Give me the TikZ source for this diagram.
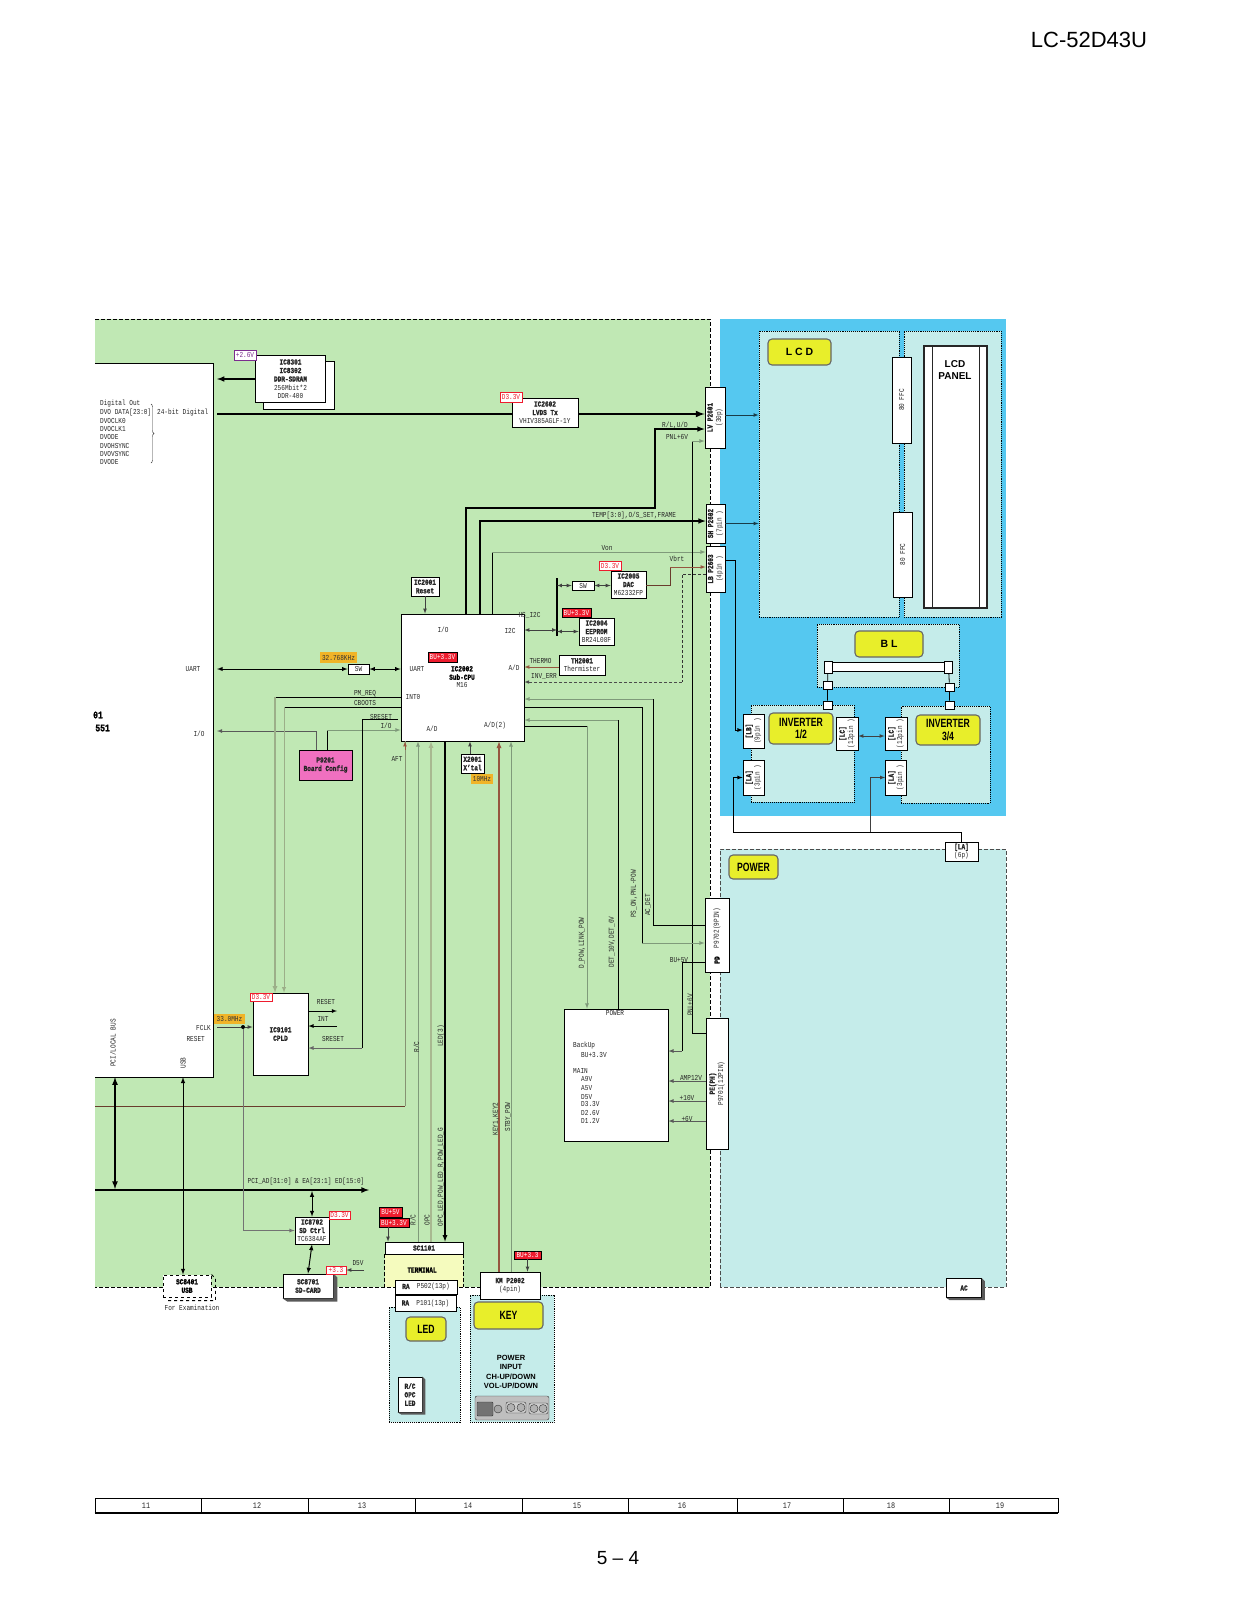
\documentclass[tikz,border=0pt]{standalone}
\usepackage{fontspec}
\setmainfont[FakeStretch=0.8,BoldFeatures={FakeBold=1.6}]{Liberation Mono}
\newfontfamily\headfont[FakeStretch=0.72]{Liberation Sans}
\newfontfamily\pagefont{Liberation Sans}
\usetikzlibrary{calc}
\usetikzlibrary{arrows}
\usetikzlibrary{decorations.pathreplacing}
\tikzset{>=latex}
\definecolor{boardgreen}{HTML}{C0E8B4}
\definecolor{skyblue}{HTML}{55C8F0}
\definecolor{paleteal}{HTML}{C5ECEA}
\definecolor{paleyellow}{HTML}{F5FBBE}
\definecolor{titleyellow}{HTML}{E8EE2A}
\definecolor{tagred}{HTML}{EE1C2E}
\definecolor{tagorange}{HTML}{F0B428}
\definecolor{tagpurple}{HTML}{7B2D8E}
\definecolor{cfgpink}{HTML}{F070C0}
\definecolor{sigbrown}{HTML}{96563F}
\definecolor{siggrey}{HTML}{7F9A7A}
\definecolor{sigtan}{HTML}{A8B890}
\tikzstyle{lbl} = [inner sep=0pt, text=black!85]
\tikzstyle{blbl} = [inner sep=0pt, text=black, font=\fontsize{7.6}{8.5}\selectfont\bfseries]
\tikzstyle{vlbl} = [lbl, rotate=90]
\tikzstyle{box} = [draw=black, fill=white, line width=0.8pt, inner sep=0pt, align=center, text=black!85]
\tikzstyle{vbox} = [box, rotate=90]
\tikzstyle{panel} = [draw=black, densely dotted, line width=0.9pt, fill=paleteal, inner sep=0pt]
\tikzstyle{title} = [draw=black!60, line width=1.1pt, fill=titleyellow, rounded corners=4pt, inner sep=0pt, align=center, font=\headfont\fontsize{12}{12.5}\selectfont\bfseries]
\tikzstyle{widetitle} = [title, font=\pagefont\fontsize{10.5}{11}\selectfont\bfseries]
\tikzstyle{redtag} = [draw=black, fill=tagred, text=white, inner sep=0pt, line width=0.5pt]
\tikzstyle{redline} = [draw=tagred, fill=white, text=tagred, inner sep=0pt, line width=0.7pt]
\tikzstyle{purpletag} = [draw=tagpurple, fill=white, text=tagpurple, inner sep=0pt, line width=0.7pt]
\tikzstyle{clocktag} = [fill=tagorange, text=black!80, inner sep=0pt]
\tikzstyle{fatline} = [line width=1.5pt, black]
\tikzstyle{midline} = [line width=0.8pt, black]
\tikzstyle{greyline} = [line width=0.8pt, siggrey]
\tikzstyle{arrow} = [line width=0.7pt, black!75]
\tikzstyle{boardedge} = [dash pattern=on 4pt off 2pt, line width=0.9pt]

\begin{document}
\begin{tikzpicture}[x=1pt,y=-1pt,font=\fontsize{7.6}{8.5}\selectfont]
    \useasboundingbox (0,0) rectangle (1237,1600);

    % page texts
    \node[inner sep=0pt, font=\pagefont\fontsize{22}{24}\selectfont] (model) at (1089,40) {LC-52D43U};
    \node[inner sep=0pt, font=\pagefont\fontsize{19}{22}\selectfont] (pageno) at (618,1558) {5 – 4};

    % board backgrounds
    \fill[boardgreen] (95,319) rectangle (710,1287);
    \draw[boardedge] (95,319) -- (710,319) -- (710,1287) -- (95,1287);
    \fill[skyblue] (720,319) rectangle (1006,816);
    \fill[paleteal] (720,849) rectangle (1006,1287);
    \draw[boardedge, draw=black!70] (720,1287) -- (720,849) -- (1006,849) -- (1006,1287) -- cycle;

    % lcd side panels
    \node[panel, minimum width=140pt, minimum height=286pt] (lcdunit) at (829,474) {};
    \node[panel, minimum width=97pt, minimum height=286pt] (panelunit) at (952.5,474) {};
    \node[panel, minimum width=142pt, minimum height=63pt] (blunit) at (888,655.5) {};
    \node[panel, minimum width=103pt, minimum height=97pt] (invone) at (802.5,753.5) {};
    \node[panel, minimum width=89pt, minimum height=97pt] (invtwo) at (945.5,754.5) {};
    \node[box, minimum width=19pt, minimum height=86pt] (ffcone) at (901.5,400) {};
    \node[box, minimum width=19pt, minimum height=85pt] (ffctwo) at (902.5,554.5) {};
    \node[vlbl] (ffconetxt) at (ffcone) {80 FFC};
    \node[vlbl] (ffctwotxt) at (ffctwo) {80 FFC};
    \node[box, draw=black!85, line width=1.2pt, minimum width=63pt, minimum height=262pt] (lcdglass) at (955.5,477) {};
    \draw[line width=1pt, black!85] (932,346) -- (932,608);
    \draw[line width=1pt, black!85] (979,346) -- (979,608);
    \node[inner sep=0pt, align=center, font=\pagefont\fontsize{10}{11.5}\selectfont\bfseries] (lcdglasstxt) at (955,370) {LCD\\PANEL};
    \node[widetitle, minimum width=63pt, minimum height=26pt] (lcdtitle) at (799.5,352) {L C D};
    \node[widetitle, minimum width=68pt, minimum height=26pt] (bltitle) at (889,644) {B L};
    \node[title, minimum width=64pt, minimum height=31pt] (invonetitle) at (801,728.5) {INVERTER\\1/2};
    \node[title, minimum width=64pt, minimum height=30pt] (invtwotitle) at (948,730) {INVERTER\\3/4};
    \node[title, minimum width=49pt, minimum height=24pt] (powertitle) at (753.5,867) {POWER};

    % backlight tube
    \node[box, minimum width=117pt, minimum height=9pt] (tube) at (888,667) {};
    \node[box, minimum width=8pt, minimum height=12pt] (tubeleft) at (828,667) {};
    \node[box, minimum width=8pt, minimum height=12pt] (tuberight) at (948.5,667) {};
    \node[box, minimum width=9pt, minimum height=8pt] (jackleft) at (827.5,685) {};
    \node[box, minimum width=9pt, minimum height=8pt] (plugleft) at (827.5,705) {};
    \node[box, minimum width=9pt, minimum height=8pt] (jackright) at (949.5,687) {};
    \node[box, minimum width=9pt, minimum height=8pt] (plugright) at (949.5,705) {};
    \draw[midline] (tubeleft) -- (jackleft) -- (plugleft);
    \draw[midline] (tuberight) -- (jackright) -- (plugright);

    % inverter connectors
    \node[vbox, minimum width=34pt, minimum height=21pt] (lbconn) at (753.5,731) {\textbf{[LB]}\\(9pin )};
    \node[vbox, minimum width=35pt, minimum height=21pt] (laone) at (753.5,777.5) {\textbf{[LA]}\\(3pin )};
    \node[vbox, minimum width=33pt, minimum height=22pt] (lcone) at (847,733.5) {\textbf{[LC]}\\(12pin )};
    \node[vbox, minimum width=33pt, minimum height=22pt] (lctwo) at (896,733.5) {\textbf{[LC]}\\(12pin )};
    \node[vbox, minimum width=35pt, minimum height=21pt] (latwo) at (896,777.5) {\textbf{[LA]}\\(3pin )};
    \node[box, minimum width=33pt, minimum height=19pt] (lasix) at (961.5,851.5) {\textbf{[LA]}\\(6p)};
    \draw[arrow, <->] (lcone.south |- 0,736) -- (lctwo.north |- 0,736);
    \draw[midline, ->] (lasix.north) |- (733,832) |- (laone.north);
    \draw[arrow, ->] (870,832) |- (latwo.north);

    % big block at the left
    \node[fill=white, minimum width=118pt, minimum height=713pt, inner sep=0pt] (soc) at (154,720.5) {};
    \draw[midline] (soc.north west) -- (soc.north east) -- (soc.south east) -- (soc.south west);
    \coordinate (socrail) at (217,720);
    \node[blbl, anchor=east, font=\fontsize{10}{11}\selectfont\bfseries] (socnumtop) at (103,715) {01};
    \node[blbl, anchor=east, font=\fontsize{10}{11}\selectfont\bfseries] (socnumbot) at (110,728) {551};
    \node[lbl, anchor=west] (dvoa) at (100,404) {Digital Out};
    \node[lbl, anchor=west] (dvob) at (100,413) {DVO DATA[23:0]};
    \node[lbl, anchor=west] (dvoc) at (100,421) {DVOCLK0};
    \node[lbl, anchor=west] (dvod) at (100,429) {DVOCLK1};
    \node[lbl, anchor=west] (dvoe) at (100,437) {DVODE};
    \node[lbl, anchor=west] (dvof) at (100,446) {DVOHSYNC};
    \node[lbl, anchor=west] (dvog) at (100,454) {DVOVSYNC};
    \node[lbl, anchor=west] (dvoh) at (100,462) {DVODE};
    \draw[decorate, decoration={brace, amplitude=3pt}, black!80] (151,404) -- (151,463);
    \node[lbl, anchor=west] (dvobits) at (157,413) {24-bit Digital};
    \node[lbl] (socuart) at (193,669) {UART};
    \node[lbl] (socio) at (199,734) {I/O};
    \node[lbl, anchor=east] (socfclk) at (211,1028) {FCLK};
    \node[lbl, anchor=east] (socreset) at (205,1039) {RESET};
    \node[vlbl] (socpci) at (113,1043) {PCI/LOCAL BUS};
    \node[vlbl] (socusb) at (183,1063) {USB};

    % ddr and lvds
    \node[box, minimum width=71pt, minimum height=48pt] (ddrback) at (298.5,385) {};
    \node[box, minimum width=70pt, minimum height=47pt] (ddr) at (290.5,379) {\textbf{IC8301}\\\textbf{IC8302}\\\textbf{DDR-SDRAM}\\256Mbit*2\\DDR-400};
    \node[purpletag, minimum width=22pt, minimum height=10pt] (ddrtag) at (245,355) {+2.6V};
    \draw[fatline, ->] (ddr.west) -- (socrail |- ddr.west);
    \node[box, minimum width=66pt, minimum height=29pt] (lvds) at (545,412.5) {\textbf{IC2602}\\\textbf{LVDS Tx}\\VHIV385AGLF-1Y};
    \node[redline, minimum width=22pt, minimum height=10pt] (lvdstag) at (511,397) {D3.3V};
    \node[vbox, minimum width=61pt, minimum height=20pt] (lvconn) at (715,417.5) {\textbf{LV P2601}\\(30p)};
    \node[vbox, minimum width=39pt, minimum height=19pt] (shconn) at (715.5,523.5) {\textbf{SH P2602}\\(7pin )};
    \node[vbox, minimum width=46pt, minimum height=19pt] (lbpconn) at (715.5,569) {\textbf{LB P2603}\\(4pin )};
    \draw[fatline, line width=2pt] (socrail |- 0,414) -- (lvds.west |- 0,414);
    \draw[fatline, line width=2pt, ->] (lvds.east |- 0,414) -- (lvconn.north |- 0,414);
    \draw[line width=0.7pt, black!70!skyblue, ->] (lvconn.south |- 0,415) -- (lcdunit.west |- 0,415);
    \draw[line width=0.7pt, black!70!skyblue, ->] (shconn.south) -- (lcdunit.west |- shconn.south);
    \draw[midline, ->] (lbpconn.south |- 0,560) -| (735,730) -- (lbconn.north |- 0,730);

    % sub cpu
    \node[box, minimum width=123pt, minimum height=127pt] (subcpu) at (462.5,677.5) {};
    \node[blbl, align=center] (subcputxt) at (462,673) {IC2002\\Sub-CPU};
    \node[lbl] (subcpum) at (462,685) {M16};
    \node[redtag, minimum width=29pt, minimum height=10pt] (subcputag) at (442.5,657) {BU+3.3V};
    \node[lbl] (cpuio) at (443,630) {I/O};
    \node[lbl] (cpui2c) at (510,631) {I2C};
    \node[lbl] (cpuuart) at (417,669) {UART};
    \node[lbl] (cpuad) at (514,668) {A/D};
    \node[lbl] (cpuint) at (413,697) {INT0};
    \node[lbl] (cpuadl) at (432,729) {A/D};
    \node[lbl] (cpuadr) at (495,726) {A/D(2)};
    \node[box, minimum width=28pt, minimum height=19pt] (reset) at (425,586.5) {\textbf{IC2001}\\\textbf{Reset}};
    \draw[arrow, ->] (reset) -- (subcpu.north -| reset);

    % lines from the top of the sub cpu
    \draw[fatline, ->] (subcpu.north -| 466,0) |- (655,508) |- (lvconn.north |- 0,429);
    \draw[fatline, ->] (subcpu.north -| 480,0) |- (shconn.north |- 0,521);
    \draw[midline] (subcpu.north -| 492,0) -- (492,552);
    \draw[greyline, ->] (492,552) -- (lbpconn.north |- 0,552);
    \draw[midline] (692,441) -- (692,1033);
    \draw[midline] (692,1033) -- (706,1033);
    \draw[greyline, ->] (692,441) -- (lvconn.north |- 0,441);
    \node[lbl] (rltxt) at (675,425) {R/L,U/D};
    \node[lbl] (pnltxt) at (677,437) {PNL+6V};
    \node[lbl] (temptxt) at (634,516) {TEMP[3:0],O/S\_SET,FRAME};
    \node[lbl] (vontxt) at (607,548) {Von};
    \node[lbl] (vorttxt) at (677,559) {Vbrt};

    % i2c devices
    \node[box, minimum width=35pt, minimum height=27pt] (dac) at (628.5,584.5) {\textbf{IC2005}\\\textbf{DAC}\\M62332FP};
    \node[redline, minimum width=22pt, minimum height=9pt] (dactag) at (610,565.5) {D3.3V};
    \node[box, minimum width=22pt, minimum height=9pt] (dacsw) at (583,585.5) {SW};
    \node[box, minimum width=35pt, minimum height=27pt] (eeprom) at (596.5,631.5) {\textbf{IC2004}\\\textbf{EEPROM}\\BR24L08F};
    \node[redtag, minimum width=29pt, minimum height=9pt] (eepromtag) at (576.5,612.5) {BU+3.3V};
    \coordinate (i2ctop) at (557,578);
    \coordinate (i2cbot) at (557,636);
    \draw[line width=2pt] (i2ctop) -- (i2cbot);
    \draw[arrow, <->] (i2ctop |- dacsw.west) -- (dacsw.west);
    \draw[arrow, <->] (dacsw.east) -- (dac.west |- dacsw.east);
    \draw[arrow, <->] (subcpu.east |- 0,630) -- (i2ctop |- 0,630);
    \draw[arrow, <->] (i2ctop |- eeprom.west) -- (eeprom.west);
    \draw[line width=0.8pt, sigbrown!70!black] (dac.east |- 0,585) -| (670,567);
    \draw[line width=0.7pt, sigbrown, ->] (670,567) -- (lbpconn.north |- 0,567);
    \node[lbl] (i2ctxt) at (529.5,615) {HS\_I2C};
    \node[box, minimum width=46pt, minimum height=20pt] (therm) at (582,665) {\textbf{TH2001}\\Thermister};
    \draw[line width=0.7pt, sigbrown, ->] (therm.west |- 0,667) -- (subcpu.east |- 0,667);
    \node[lbl] (thermtxt) at (540.5,661) {THERMO};
    \draw[densely dashed, line width=0.6pt, black!80] (lbpconn.north |- 0,574) -| (682,682);
    \draw[densely dashed, line width=0.6pt, black!70, ->] (682,682) -- (subcpu.east |- 0,682);
    \node[lbl] (invtxt) at (544,676) {INV\_ERR};

    % uart
    \node[box, minimum width=21pt, minimum height=10pt] (uartsw) at (358.5,669) {SW};
    \node[clocktag, minimum width=37pt, minimum height=11pt] (uartclk) at (338.5,657.5) {32.768KHz};
    \draw[fatline, line width=0.9pt, <->] (socrail |- uartsw.west) -- (uartsw.west);
    \draw[fatline, line width=0.9pt, <->] (uartsw.east) -- (subcpu.west |- uartsw.east);

    % board config
    \node[box, fill=cfgpink, minimum width=53pt, minimum height=30pt] (config) at (325.5,765) {\textbf{P9201}\\\textbf{Board Config}};
    \draw[greyline, black!65, ->] (config.north -| 316,0) |- (socrail |- 0,731);
    \draw[midline] (config.north -| 327,0) -- (327,730);
    \draw[greyline, ->] (327,730) -- (subcpu.west |- 0,730);
    \node[lbl] (cfgtxt) at (386,726) {I/O};

    % cpld
    \node[box, minimum width=55pt, minimum height=82pt] (cpld) at (280.5,1034) {\textbf{IC9101}\\\textbf{CPLD}};
    \node[redline, minimum width=22pt, minimum height=8pt] (cpldtag) at (261,997) {D3.3V};
    \draw[midline] (subcpu.west |- 0,697) -- (275,697);
    \draw[line width=1.2pt, sigtan!70!siggrey, ->] (275,697) -- (cpld.north -| 275,0);
    \draw[midline] (subcpu.west |- 0,707) -- (284,707);
    \draw[line width=0.9pt, sigtan!70!siggrey, ->] (284,707) -- (cpld.north -| 284,0);
    \draw[midline] (398,719) -- (362,719) -- (362,1048);
    \draw[greyline, black!60, ->] (362,1048) -- (cpld.east |- 0,1048);
    \node[lbl] (pmtxt) at (365,694) {PM\_REQ};
    \node[lbl] (cbtxt) at (365,703) {CBOOTS};
    \node[lbl] (srtxt) at (381,717) {SRESET};
    \coordinate (resetend) at (337,1011);
    \coordinate (intend) at (337,1026);
    \draw[midline, ->] (cpld.east |- resetend) -- (resetend);
    \draw[midline, ->] (intend) -- (cpld.east |- intend);
    \node[lbl] (cpldreset) at (326,1002) {RESET};
    \node[lbl] (cpldint) at (323,1019) {INT};
    \node[lbl] (cpldsr) at (333,1039) {SRESET};
    \node[clocktag, minimum width=31pt, minimum height=10pt] (pciclk) at (229.5,1019) {33.0MHz};
    \node[circle, fill=black, inner sep=0pt, minimum size=4pt] (clkdot) at (243,1027) {};
    \draw[arrow] (socrail |- clkdot) -- (clkdot);
    \draw[arrow, ->] (clkdot) -- (cpld.west |- clkdot);

    % aft and rc lines below the sub cpu
    \draw[line width=0.7pt, sigbrown!70!black] (95,1106) -- (405,1106);
    \draw[line width=0.8pt, sigtan!80!black] (405,1106) -- (405,741);
    \draw[line width=0.7pt, sigbrown, ->] (405,750) -- (subcpu.south -| 405,0);
    \node[lbl] (afttxt) at (397,759) {AFT};
    \node[box, minimum width=23pt, minimum height=19pt] (xtal) at (472.5,763.5) {\textbf{X2001}\\\textbf{X'tal}};
    \node[clocktag, minimum width=22pt, minimum height=10pt] (xtalclk) at (482,779) {10MHz};
    \draw[arrow, ->] (xtal.north -| 470,0) -- (subcpu.south -| 470,0);

    % terminal
    \node[fill=paleyellow, minimum width=78pt, minimum height=33pt, inner sep=0pt] (terminal) at (424,1270.5) {};
    \draw[boardedge] (terminal.north west) -- (terminal.south west);
    \draw[boardedge] (terminal.north east) -- (terminal.south east);
    \node[box, minimum width=78pt, minimum height=12pt] (sc1101) at (424,1248) {\textbf{SC1101}};
    \node[blbl] (termtxt) at (422,1270) {TERMINAL};
    \node[redtag, minimum width=23pt, minimum height=10pt] (busix) at (390.5,1212) {BU+5V};
    \node[redtag, minimum width=30pt, minimum height=9pt] (buthree) at (394,1222.5) {BU+3.3V};
    \draw[arrow, ->] (388,1227) -- (sc1101.north -| 388,0);
    \draw[greyline, <-] (subcpu.south -| 418,0) -- (sc1101.north -| 418,0);
    \draw[line width=1.2pt, sigtan, ->] (sc1101.north -| 431,0) -- (subcpu.south -| 431,0);
    \draw[line width=1.2pt, <-] (sc1101.north -| 445,0) -- (subcpu.south -| 445,0);
    \node[vlbl] (rctxt) at (416.5,1047) {R/C};
    \node[vlbl] (rclow) at (413,1220) {R/C};
    \node[vlbl] (opctxt) at (427,1220) {OPC};
    \node[vlbl] (ledtxt) at (441,1036) {LED(3)};
    \node[vlbl] (ledlow) at (441,1177) {OPC\_LED,POW\_LED\_R,POW\_LED\_G};

    % led unit
    \node[panel, minimum width=71pt, minimum height=115pt] (ledunit) at (424.5,1364.5) {};
    \node[box, line width=0.6pt, minimum width=62pt, minimum height=14pt] (rafive) at (426,1287) {\textbf{RA}\ \ P502(13p)};
    \node[box, line width=0.6pt, minimum width=61pt, minimum height=16pt] (raone) at (425.5,1303.5) {\textbf{RA}\ \ P101(13p)};
    \node[title, minimum width=40pt, minimum height=24pt] (ledtitle) at (426,1329) {LED};
    \node[box, minimum width=24pt, minimum height=35pt] (ledparts) at (410,1394.5) {\textbf{R/C}\\\textbf{OPC}\\\textbf{LED}};
    \fill[black!65] (ledparts.north east) -- ++(3,3) -- ++(0,35) -- ++(-24,0) -- (ledparts.south west) -- (ledparts.south east) -- cycle;

    % key unit
    \node[panel, minimum width=84pt, minimum height=127pt] (keyunit) at (512,1358.5) {};
    \node[box, minimum width=60pt, minimum height=27pt] (keyconn) at (510,1285.5) {\textbf{KM P2002}\\(4pin)};
    \node[title, minimum width=69pt, minimum height=27pt] (keytitle) at (508.5,1315.5) {KEY};
    \node[inner sep=0pt, align=center, font=\pagefont\fontsize{7.5}{9.3}\selectfont\bfseries] (keytxt) at (511,1372) {POWER\\INPUT\\CH-UP/DOWN\\VOL-UP/DOWN};
    \node[redtag, minimum width=27pt, minimum height=8pt] (keytag) at (527.5,1255) {BU+3.3};
    \draw[arrow, ->] (keytag) -- (keyconn.north -| keytag);
    \draw[line width=1.3pt, sigbrown, ->] (keyconn.north -| 499,0) -- (subcpu.south -| 499,0);
    \draw[greyline, ->] (keyconn.north -| 511,0) -- (subcpu.south -| 511,0);
    \node[vlbl] (keylbl) at (496,1119) {KEY1,KEY2};
    \node[vlbl] (stbylbl) at (508,1117) {STBY\_POW};
    \draw[draw=black!80, fill=black!25, rounded corners=2pt] (475,1396) rectangle (549,1420);
    \draw[draw=black!80, fill=black!55, rounded corners=1pt] (477,1402) rectangle (493,1416);
    \draw[draw=black!80, fill=black!35] (498,1409) circle (4);
    \draw[draw=black!80, fill=black!20, rounded corners=2pt] (506,1402) rectangle (526,1413);
    \draw[draw=black!80, fill=black!30] (511,1407.5) circle (4);
    \draw[draw=black!80, fill=black!30] (521,1407.5) circle (4);
    \draw[draw=black!80, fill=black!20, rounded corners=2pt] (529,1403) rectangle (548,1414);
    \draw[draw=black!80, fill=black!30] (534,1408.5) circle (4);
    \draw[draw=black!80, fill=black!30] (543,1408.5) circle (4);

    % power
    \node[box, minimum width=104pt, minimum height=132pt] (power) at (616,1075) {};
    \node[lbl] (powertxt) at (615,1013) {POWER};
    \node[lbl, anchor=west] (powa) at (573,1046) {BackUp};
    \node[lbl, anchor=west] (powb) at (581,1055) {BU+3.3V};
    \node[lbl, anchor=west] (powc) at (573,1071) {MAIN};
    \node[lbl, anchor=west] (powd) at (581,1079) {A9V};
    \node[lbl, anchor=west] (powe) at (581,1088) {A5V};
    \node[lbl, anchor=west] (powf) at (581,1097) {D5V};
    \node[lbl, anchor=west] (powg) at (581,1104) {D3.3V};
    \node[lbl, anchor=west] (powh) at (581,1113) {D2.6V};
    \node[lbl, anchor=west] (powi) at (581,1121) {D1.2V};
    \node[vbox, minimum width=74pt, minimum height=24pt] (pdconn) at (717,935) {};
    \node[blbl, rotate=90] (pdtxt) at (717,960) {PD};
    \node[vlbl] (pdpin) at (717,928) {P9702(9PIN)};
    \node[vbox, minimum width=131pt, minimum height=22pt] (peconn) at (717,1083.5) {\textbf{PE(PH)}\\P9701(12PIN)};
    \draw[midline] (pdconn.north |- 0,925) -| (653,699);
    \draw[greyline, ->] (653,699) -- (subcpu.east |- 0,699);
    \draw[midline] (subcpu.east |- 0,707) -| (642,943);
    \draw[greyline, ->] (642,943) -- (pdconn.north |- 0,943);
    \draw[midline] (power.north -| 618,0) -- (618,720);
    \draw[greyline, ->] (618,720) -- (subcpu.east |- 0,720);
    \draw[midline] (subcpu.east |- 0,726) -- (587,726);
    \draw[greyline, ->] (587,726) -- (power.north -| 587,0);
    \draw[midline] (pdconn.north |- 0,962) -| (682,1051);
    \draw[greyline, black!65, ->] (682,1051) -- (power.east |- 0,1051);
    \draw[greyline, black!65, ->] (peconn.north |- 0,1081) -- (power.east |- 0,1081);
    \draw[greyline, black!65, ->] (peconn.north |- 0,1101) -- (power.east |- 0,1101);
    \draw[greyline, black!65, ->] (peconn.north |- 0,1121) -- (power.east |- 0,1121);
    \node[vlbl] (acdet) at (648,905) {AC\_DET};
    \node[vlbl] (pson) at (634,894) {PS\_ON,PNL-POW};
    \node[vlbl] (detv) at (612,942) {DET\_10V,DET\_6V};
    \node[vlbl] (dpow) at (582,943) {D\_POW,LINK\_POW};
    \node[lbl] (butxt) at (679,960) {BU+5V};
    \node[vlbl] (pnlv) at (690,1005) {PNL+6V};
    \node[lbl] (amptxt) at (691,1078) {AMP12V};
    \node[lbl] (tentxt) at (687,1098) {+10V};
    \node[lbl] (sixtxt) at (687,1119) {+6V};
    \node[box, line width=0.6pt, minimum width=35pt, minimum height=19pt] (acconn) at (964,1288) {\textbf{AC}};
    \fill[black!65] (acconn.north east) -- ++(3,3) -- ++(0,19) -- ++(-35,0) -- (acconn.south west) -- (acconn.south east) -- cycle;

    % pci bus
    \coordinate (buswest) at (95,1190);
    \coordinate (buseast) at (369,1190);
    \draw[line width=1.6pt, ->] (buswest) -- (buseast);
    \draw[line width=1.6pt, <->] (soc.south -| 115,0) -- (115,1189);
    \node[lbl] (bustxt) at (306,1182) {PCI\_AD[31:0] \& EA[23:1] ED[15:0]};
    \node[box, minimum width=34pt, minimum height=27pt] (sdctrl) at (312,1230.5) {\textbf{IC8702}\\\textbf{SD Ctrl}\\TC6384AF};
    \node[redline, minimum width=21pt, minimum height=8pt] (sdtag) at (339.5,1215) {D3.3V};
    \node[box, minimum width=50pt, minimum height=24pt] (sdcard) at (308,1286) {\textbf{SC8701}\\\textbf{SD-CARD}};
    \fill[black!65] (sdcard.north east) -- ++(4,4) -- ++(0,24) -- ++(-50,0) -- (sdcard.south west) -- (sdcard.south east) -- cycle;
    \node[redline, minimum width=20pt, minimum height=8pt] (cardtag) at (336,1270) {+3.3};
    \node[lbl] (cardv) at (358,1263) {D5V};
    \coordinate (cardvend) at (364,1270);
    \draw[arrow, ->] (cardvend) -- (cardtag);
    \draw[midline, line width=1pt, <->] (sdctrl.north) -- (312,1191);
    \draw[midline, line width=1pt, <->] (sdctrl.south) -- (sdcard.north);
    \draw[greyline, black!55, ->] (clkdot) |- (sdctrl.west);

    % usb
    \node[draw=black, dashed, fill=white, line width=0.9pt, minimum width=48pt, minimum height=22pt, inner sep=0pt, align=center] (usb) at (187,1286) {\textbf{SC8401}\\\textbf{USB}};
    \draw[dashed, line width=0.9pt] (usb.north east) -- ++(4,4) -- ++(0,22) -- ++(-48,0);
    \node[lbl] (usbtxt) at (192,1308) {For Examination};
    \draw[midline, line width=1pt, <->] (soc.south -| 183,0) -- (usb.north -| 183,0);

    % ruler at the bottom
    \node[draw=black, line width=0.8pt, fill=white, minimum width=963pt, minimum height=14pt, inner sep=0pt] (ruler) at (576.5,1505.5) {};
    \draw[line width=1.5pt] (ruler.south west) -- (ruler.south east);
    \foreach \x in {201,308,415,522,628,737,843,949}
        \draw[line width=0.6pt] (\x,1498.5) -- (\x,1512.5);
    \foreach \lab/\x in {11/146,12/257,13/362,14/468,15/577,16/682,17/787,18/891,19/1000}
        \node[lbl, font=\fontsize{8.5}{9}\selectfont] (cell\lab) at (\x,1505.5) {\lab};

\end{tikzpicture}
\end{document}
